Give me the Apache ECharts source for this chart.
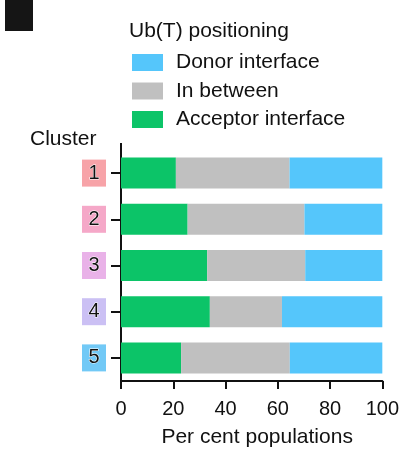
<!DOCTYPE html>
<html>
<head>
<meta charset="utf-8">
<script src="https://cdn.jsdelivr.net/npm/echarts@6/dist/echarts.min.js"></script>
<style>
  html, body { margin: 0; padding: 0; background: #fff; }
  #chart { width: 402px; height: 459px; }
</style>
</head>
<body>
<div id="chart"></div>
<script>
// cluster labels and their badge colours
var clusters = ['1', '2', '3', '4', '5'];
var clusterColors = ['#f7a3a8', '#f5a8c8', '#e9b2e8', '#cbc0f4', '#72c9f6'];

// per cent of populations in each position
var acceptor = [21, 25.5, 33, 34, 23];
var inBetween = [43.5, 44.7, 37.5, 27.6, 41.6];
var donor = [35.5, 29.8, 29.5, 38.4, 35.4];

var xTicks = [0, 20, 40, 60, 80, 100];

var FONT = 'Liberation Sans';

var chart = echarts.init(document.getElementById('chart'));

// rich styles for the coloured cluster badges
var rich = {};
clusters.forEach(function(c, i) {
    rich['c' + i] = {
        backgroundColor: clusterColors[i],
        width: 24,
        height: 27,
        lineHeight: 27,
        align: 'center',
        fontSize: 20,
        fontFamily: FONT,
        color: '#111',
        textBorderColor: '#fff',
        textBorderWidth: 1
    };
});

var barStyle = { barWidth: '67%' };

var option = {
    animation: false,
    textStyle: { fontFamily: FONT },
    title: {
        text: 'Ub(T) positioning',
        left: 124,
        top: 16,
        textStyle: { fontSize: 21, fontWeight: 'normal', color: '#111', fontFamily: FONT }
    },
    legend: {
        orient: 'vertical',
        left: 127,
        top: 47,
        itemWidth: 31,
        itemHeight: 17,
        itemGap: 7.5,
        selectedMode: false,
        icon: 'rect',
        data: ['Donor interface', 'In between', 'Acceptor interface'],
        textStyle: { fontSize: 21, color: '#111', fontFamily: FONT, padding: [0, 0, 0, 8] }
    },
    grid: { left: 121, right: 18, top: 150, bottom: 78, containLabel: false },
    xAxis: {
        type: 'value',
        min: 0,
        max: 100,
        interval: 20,
        name: 'Per cent populations',
        nameLocation: 'middle',
        nameGap: 46,
        nameTextStyle: { fontSize: 21, color: '#111', fontFamily: FONT, padding: [0, 0, 0, 11] },
        splitLine: { show: false },
        axisLine: { show: true, lineStyle: { color: '#111', width: 2 } },
        axisTick: { show: true, length: 8, lineStyle: { color: '#111', width: 2 } },
        axisLabel: {
            fontSize: 20,
            color: '#111',
            margin: 18,
            formatter: function(v) { return xTicks.indexOf(v) >= 0 ? String(v) : ''; }
        }
    },
    yAxis: {
        type: 'category',
        inverse: true,
        data: clusters,
        axisLine: { show: true, lineStyle: { color: '#111', width: 2 } },
        axisTick: { show: true, length: 10, alignWithLabel: true, lineStyle: { color: '#111', width: 2 } },
        axisLabel: {
            margin: 15,
            rich: rich,
            formatter: function(v, i) { return '{c' + i + '|' + v + '}'; }
        }
    },
    graphic: [
        // panel letter block
        { type: 'rect', shape: { x: 5, y: 0, width: 28, height: 31 }, style: { fill: '#151515' } },
        // axis line continues above the bars
        { type: 'line', shape: { x1: 121, y1: 143, x2: 121, y2: 151 }, style: { stroke: '#111', lineWidth: 2 } },
        {
            type: 'text', left: 30, top: 129,
            style: { text: 'Cluster', fontSize: 21, fontFamily: FONT, fill: '#111' }
        }
    ],
    series: [
        Object.assign({ name: 'Acceptor interface', type: 'bar', stack: 'pos', data: acceptor, itemStyle: { color: '#0cc468' } }, barStyle),
        Object.assign({ name: 'In between', type: 'bar', stack: 'pos', data: inBetween, itemStyle: { color: '#c0c0c0' } }, barStyle),
        Object.assign({ name: 'Donor interface', type: 'bar', stack: 'pos', data: donor, itemStyle: { color: '#55c6fb' } }, barStyle)
    ]
};
chart.setOption(option);
</script>
</body>
</html>
